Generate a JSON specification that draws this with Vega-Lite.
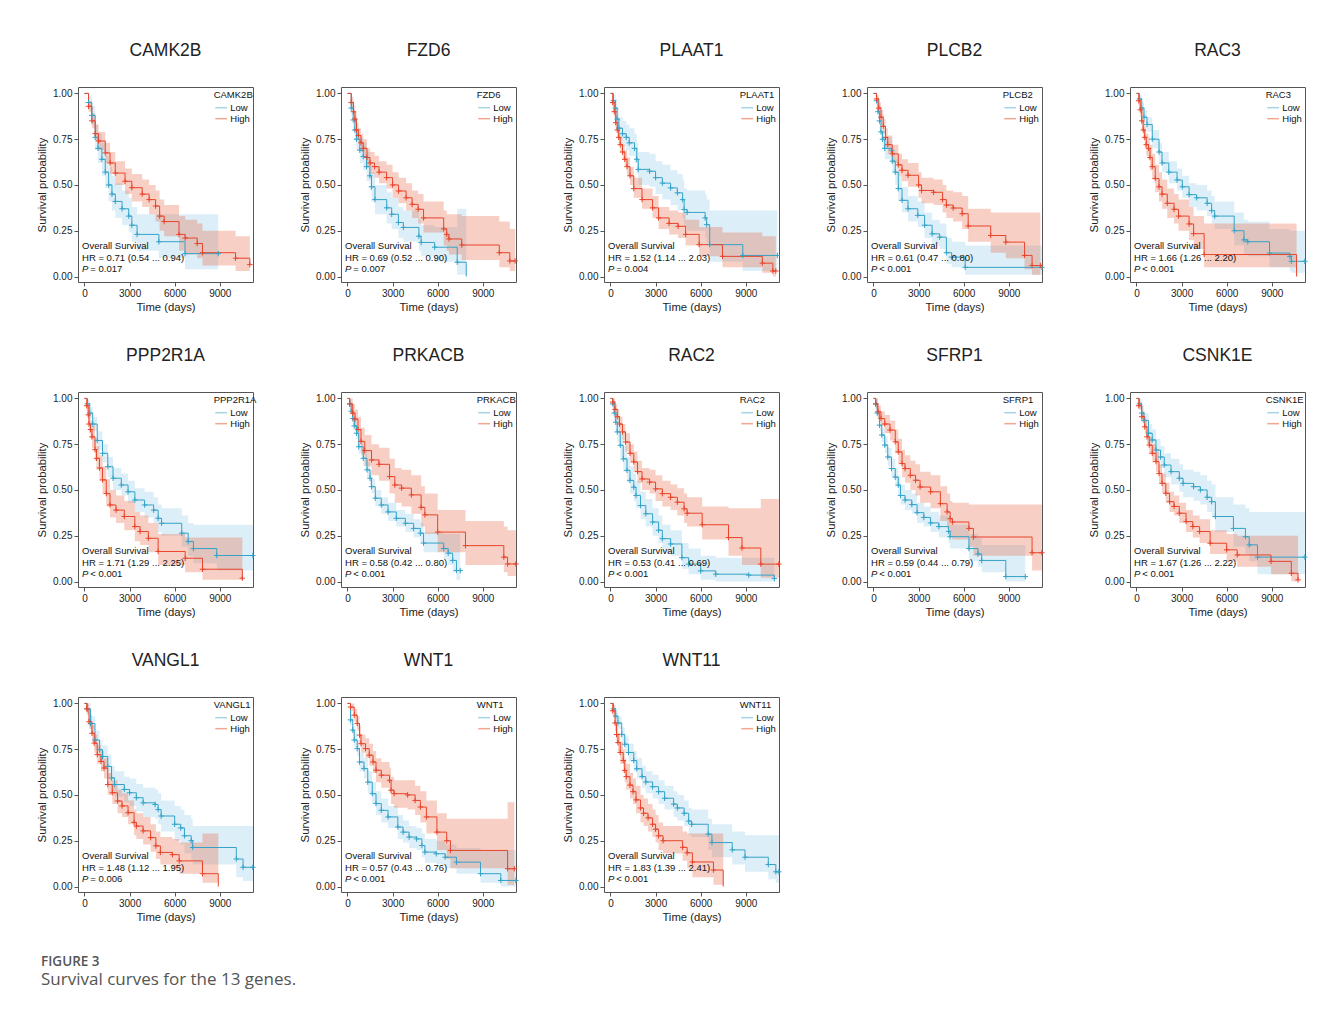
{
"$schema": "https://vega.github.io/schema/vega-lite/v6.json",
"background": "white",
"padding": {"left": 36, "top": 41, "right": 5, "bottom": 5},
"data": {"values": [
{"g":"CAMK2B","k":"A","hr":"HR = 0.71 (0.54 ... 0.94)","p":"= 0.017"},
{"g":"FZD6","k":"A","hr":"HR = 0.69 (0.52 ... 0.90)","p":"= 0.007"},
{"g":"PLAAT1","k":"A","hr":"HR = 1.52 (1.14 ... 2.03)","p":"= 0.004"},
{"g":"PLCB2","k":"A","hr":"HR = 0.61 (0.47 ... 0.80)","p":"< 0.001"},
{"g":"RAC3","k":"A","hr":"HR = 1.66 (1.26 ... 2.20)","p":"< 0.001"},
{"g":"PPP2R1A","k":"A","hr":"HR = 1.71 (1.29 ... 2.25)","p":"< 0.001"},
{"g":"PRKACB","k":"A","hr":"HR = 0.58 (0.42 ... 0.80)","p":"< 0.001"},
{"g":"RAC2","k":"A","hr":"HR = 0.53 (0.41 ... 0.69)","p":"< 0.001"},
{"g":"SFRP1","k":"A","hr":"HR = 0.59 (0.44 ... 0.79)","p":"< 0.001"},
{"g":"CSNK1E","k":"A","hr":"HR = 1.67 (1.26 ... 2.22)","p":"< 0.001"},
{"g":"VANGL1","k":"A","hr":"HR = 1.48 (1.12 ... 1.95)","p":"= 0.006"},
{"g":"WNT1","k":"A","hr":"HR = 0.57 (0.43 ... 0.76)","p":"< 0.001"},
{"g":"WNT11","k":"A","hr":"HR = 1.83 (1.39 ... 2.41)","p":"< 0.001"},

{"g":"CAMK2B","k":"L","t":0,"s":1,"lo":1,"hi":1},
{"g":"CAMK2B","k":"L","t":270,"s":0.95,"lo":0.91,"hi":0.99},
{"g":"CAMK2B","k":"L","t":490,"s":0.88,"lo":0.83,"hi":0.93},
{"g":"CAMK2B","k":"L","t":714,"s":0.76,"lo":0.69,"hi":0.83},
{"g":"CAMK2B","k":"L","t":900,"s":0.70,"lo":0.62,"hi":0.78},
{"g":"CAMK2B","k":"L","t":1160,"s":0.64,"lo":0.55,"hi":0.73},
{"g":"CAMK2B","k":"L","t":1383,"s":0.57,"lo":0.48,"hi":0.66},
{"g":"CAMK2B","k":"L","t":1606,"s":0.50,"lo":0.41,"hi":0.60},
{"g":"CAMK2B","k":"L","t":1829,"s":0.45,"lo":0.36,"hi":0.55},
{"g":"CAMK2B","k":"L","t":2052,"s":0.41,"lo":0.32,"hi":0.51},
{"g":"CAMK2B","k":"L","t":2500,"s":0.37,"lo":0.28,"hi":0.47},
{"g":"CAMK2B","k":"L","t":2944,"s":0.33,"lo":0.24,"hi":0.43},
{"g":"CAMK2B","k":"L","t":3150,"s":0.28,"lo":0.19,"hi":0.38},
{"g":"CAMK2B","k":"L","t":3500,"s":0.23,"lo":0.14,"hi":0.34},
{"g":"CAMK2B","k":"L","t":4950,"s":0.19,"lo":0.10,"hi":0.34},
{"g":"CAMK2B","k":"L","t":6690,"s":0.125,"lo":0.04,"hi":0.34},
{"g":"CAMK2B","k":"L","t":8900,"s":0.125,"lo":0.04,"hi":0.34},
{"g":"CAMK2B","k":"H","t":0,"s":1,"lo":1,"hi":1},
{"g":"CAMK2B","k":"H","t":270,"s":0.93,"lo":0.90,"hi":0.96},
{"g":"CAMK2B","k":"H","t":490,"s":0.85,"lo":0.81,"hi":0.89},
{"g":"CAMK2B","k":"H","t":714,"s":0.78,"lo":0.74,"hi":0.83},
{"g":"CAMK2B","k":"H","t":937,"s":0.74,"lo":0.69,"hi":0.79},
{"g":"CAMK2B","k":"H","t":1383,"s":0.675,"lo":0.62,"hi":0.73},
{"g":"CAMK2B","k":"H","t":1700,"s":0.62,"lo":0.56,"hi":0.68},
{"g":"CAMK2B","k":"H","t":2050,"s":0.565,"lo":0.50,"hi":0.63},
{"g":"CAMK2B","k":"H","t":2700,"s":0.52,"lo":0.45,"hi":0.59},
{"g":"CAMK2B","k":"H","t":3150,"s":0.485,"lo":0.41,"hi":0.56},
{"g":"CAMK2B","k":"H","t":3840,"s":0.45,"lo":0.38,"hi":0.53},
{"g":"CAMK2B","k":"H","t":4300,"s":0.42,"lo":0.34,"hi":0.50},
{"g":"CAMK2B","k":"H","t":4730,"s":0.385,"lo":0.30,"hi":0.47},
{"g":"CAMK2B","k":"H","t":5000,"s":0.33,"lo":0.25,"hi":0.42},
{"g":"CAMK2B","k":"H","t":5300,"s":0.30,"lo":0.22,"hi":0.39},
{"g":"CAMK2B","k":"H","t":6290,"s":0.23,"lo":0.14,"hi":0.33},
{"g":"CAMK2B","k":"H","t":6700,"s":0.21,"lo":0.12,"hi":0.31},
{"g":"CAMK2B","k":"H","t":7500,"s":0.18,"lo":0.10,"hi":0.29},
{"g":"CAMK2B","k":"H","t":7850,"s":0.13,"lo":0.06,"hi":0.25},
{"g":"CAMK2B","k":"H","t":10050,"s":0.10,"lo":0.03,"hi":0.22},
{"g":"CAMK2B","k":"H","t":11000,"s":0.065,"lo":0.02,"hi":0.20},

{"g":"FZD6","k":"L","t":0,"s":1,"lo":1,"hi":1},
{"g":"FZD6","k":"L","t":250,"s":0.92,"lo":0.88,"hi":0.96},
{"g":"FZD6","k":"L","t":380,"s":0.855,"lo":0.80,"hi":0.91},
{"g":"FZD6","k":"L","t":490,"s":0.80,"lo":0.74,"hi":0.86},
{"g":"FZD6","k":"L","t":600,"s":0.75,"lo":0.69,"hi":0.81},
{"g":"FZD6","k":"L","t":820,"s":0.69,"lo":0.62,"hi":0.76},
{"g":"FZD6","k":"L","t":1050,"s":0.655,"lo":0.58,"hi":0.73},
{"g":"FZD6","k":"L","t":1270,"s":0.60,"lo":0.52,"hi":0.68},
{"g":"FZD6","k":"L","t":1490,"s":0.55,"lo":0.47,"hi":0.63},
{"g":"FZD6","k":"L","t":1600,"s":0.49,"lo":0.41,"hi":0.57},
{"g":"FZD6","k":"L","t":1830,"s":0.42,"lo":0.34,"hi":0.50},
{"g":"FZD6","k":"L","t":2610,"s":0.375,"lo":0.29,"hi":0.46},
{"g":"FZD6","k":"L","t":2940,"s":0.34,"lo":0.26,"hi":0.43},
{"g":"FZD6","k":"L","t":3390,"s":0.295,"lo":0.21,"hi":0.38},
{"g":"FZD6","k":"L","t":3720,"s":0.268,"lo":0.19,"hi":0.36},
{"g":"FZD6","k":"L","t":4750,"s":0.22,"lo":0.14,"hi":0.31},
{"g":"FZD6","k":"L","t":4900,"s":0.186,"lo":0.11,"hi":0.28},
{"g":"FZD6","k":"L","t":5800,"s":0.16,"lo":0.08,"hi":0.27},
{"g":"FZD6","k":"L","t":7300,"s":0.078,"lo":0.01,"hi":0.37},
{"g":"FZD6","k":"L","t":7900,"s":0,"lo":0.01,"hi":0.37},
{"g":"FZD6","k":"H","t":0,"s":1,"lo":1,"hi":1},
{"g":"FZD6","k":"H","t":250,"s":0.95,"lo":0.92,"hi":0.98},
{"g":"FZD6","k":"H","t":400,"s":0.90,"lo":0.87,"hi":0.93},
{"g":"FZD6","k":"H","t":500,"s":0.86,"lo":0.82,"hi":0.90},
{"g":"FZD6","k":"H","t":600,"s":0.80,"lo":0.76,"hi":0.84},
{"g":"FZD6","k":"H","t":720,"s":0.77,"lo":0.73,"hi":0.81},
{"g":"FZD6","k":"H","t":900,"s":0.73,"lo":0.68,"hi":0.78},
{"g":"FZD6","k":"H","t":1050,"s":0.70,"lo":0.65,"hi":0.75},
{"g":"FZD6","k":"H","t":1300,"s":0.65,"lo":0.60,"hi":0.70},
{"g":"FZD6","k":"H","t":1500,"s":0.62,"lo":0.56,"hi":0.68},
{"g":"FZD6","k":"H","t":1800,"s":0.60,"lo":0.54,"hi":0.66},
{"g":"FZD6","k":"H","t":2100,"s":0.57,"lo":0.51,"hi":0.63},
{"g":"FZD6","k":"H","t":2600,"s":0.54,"lo":0.48,"hi":0.61},
{"g":"FZD6","k":"H","t":3000,"s":0.50,"lo":0.43,"hi":0.57},
{"g":"FZD6","k":"H","t":3400,"s":0.467,"lo":0.40,"hi":0.54},
{"g":"FZD6","k":"H","t":3900,"s":0.43,"lo":0.36,"hi":0.51},
{"g":"FZD6","k":"H","t":4300,"s":0.394,"lo":0.32,"hi":0.47},
{"g":"FZD6","k":"H","t":4700,"s":0.367,"lo":0.29,"hi":0.45},
{"g":"FZD6","k":"H","t":5060,"s":0.32,"lo":0.24,"hi":0.41},
{"g":"FZD6","k":"H","t":6400,"s":0.26,"lo":0.17,"hi":0.36},
{"g":"FZD6","k":"H","t":6600,"s":0.23,"lo":0.14,"hi":0.34},
{"g":"FZD6","k":"H","t":6750,"s":0.205,"lo":0.12,"hi":0.34},
{"g":"FZD6","k":"H","t":7600,"s":0.172,"lo":0.09,"hi":0.33},
{"g":"FZD6","k":"H","t":10100,"s":0.13,"lo":0.05,"hi":0.30},
{"g":"FZD6","k":"H","t":10800,"s":0.085,"lo":0.03,"hi":0.26},
{"g":"FZD6","k":"H","t":11150,"s":0.085,"lo":0.03,"hi":0.26},

{"g":"PLAAT1","k":"L","t":0,"s":1,"lo":1,"hi":1},
{"g":"PLAAT1","k":"L","t":200,"s":0.96,"lo":0.92,"hi":0.99},
{"g":"PLAAT1","k":"L","t":330,"s":0.92,"lo":0.87,"hi":0.97},
{"g":"PLAAT1","k":"L","t":440,"s":0.86,"lo":0.80,"hi":0.92},
{"g":"PLAAT1","k":"L","t":560,"s":0.81,"lo":0.75,"hi":0.87},
{"g":"PLAAT1","k":"L","t":800,"s":0.78,"lo":0.71,"hi":0.85},
{"g":"PLAAT1","k":"L","t":1050,"s":0.76,"lo":0.69,"hi":0.83},
{"g":"PLAAT1","k":"L","t":1250,"s":0.73,"lo":0.66,"hi":0.81},
{"g":"PLAAT1","k":"L","t":1600,"s":0.70,"lo":0.62,"hi":0.78},
{"g":"PLAAT1","k":"L","t":1750,"s":0.64,"lo":0.56,"hi":0.73},
{"g":"PLAAT1","k":"L","t":1850,"s":0.585,"lo":0.50,"hi":0.68},
{"g":"PLAAT1","k":"L","t":2600,"s":0.575,"lo":0.49,"hi":0.67},
{"g":"PLAAT1","k":"L","t":3000,"s":0.54,"lo":0.45,"hi":0.63},
{"g":"PLAAT1","k":"L","t":3450,"s":0.51,"lo":0.42,"hi":0.61},
{"g":"PLAAT1","k":"L","t":4000,"s":0.484,"lo":0.39,"hi":0.58},
{"g":"PLAAT1","k":"L","t":4450,"s":0.457,"lo":0.36,"hi":0.56},
{"g":"PLAAT1","k":"L","t":4800,"s":0.42,"lo":0.32,"hi":0.53},
{"g":"PLAAT1","k":"L","t":4900,"s":0.366,"lo":0.27,"hi":0.48},
{"g":"PLAAT1","k":"L","t":5100,"s":0.35,"lo":0.25,"hi":0.47},
{"g":"PLAAT1","k":"L","t":6300,"s":0.32,"lo":0.21,"hi":0.45},
{"g":"PLAAT1","k":"L","t":6400,"s":0.283,"lo":0.18,"hi":0.42},
{"g":"PLAAT1","k":"L","t":6600,"s":0.174,"lo":0.08,"hi":0.36},
{"g":"PLAAT1","k":"L","t":8800,"s":0.115,"lo":0.03,"hi":0.36},
{"g":"PLAAT1","k":"L","t":11100,"s":0.115,"lo":0.03,"hi":0.36},
{"g":"PLAAT1","k":"H","t":0,"s":1,"lo":1,"hi":1},
{"g":"PLAAT1","k":"H","t":150,"s":0.95,"lo":0.93,"hi":0.97},
{"g":"PLAAT1","k":"H","t":250,"s":0.90,"lo":0.87,"hi":0.93},
{"g":"PLAAT1","k":"H","t":350,"s":0.84,"lo":0.81,"hi":0.88},
{"g":"PLAAT1","k":"H","t":450,"s":0.80,"lo":0.76,"hi":0.84},
{"g":"PLAAT1","k":"H","t":550,"s":0.76,"lo":0.72,"hi":0.80},
{"g":"PLAAT1","k":"H","t":650,"s":0.72,"lo":0.68,"hi":0.76},
{"g":"PLAAT1","k":"H","t":800,"s":0.68,"lo":0.64,"hi":0.72},
{"g":"PLAAT1","k":"H","t":950,"s":0.64,"lo":0.60,"hi":0.69},
{"g":"PLAAT1","k":"H","t":1100,"s":0.60,"lo":0.55,"hi":0.65},
{"g":"PLAAT1","k":"H","t":1300,"s":0.55,"lo":0.50,"hi":0.60},
{"g":"PLAAT1","k":"H","t":1550,"s":0.48,"lo":0.43,"hi":0.54},
{"g":"PLAAT1","k":"H","t":2100,"s":0.42,"lo":0.37,"hi":0.48},
{"g":"PLAAT1","k":"H","t":2800,"s":0.375,"lo":0.32,"hi":0.44},
{"g":"PLAAT1","k":"H","t":3200,"s":0.32,"lo":0.26,"hi":0.38},
{"g":"PLAAT1","k":"H","t":3900,"s":0.29,"lo":0.23,"hi":0.36},
{"g":"PLAAT1","k":"H","t":4500,"s":0.274,"lo":0.21,"hi":0.35},
{"g":"PLAAT1","k":"H","t":5000,"s":0.23,"lo":0.17,"hi":0.31},
{"g":"PLAAT1","k":"H","t":5900,"s":0.174,"lo":0.11,"hi":0.27},
{"g":"PLAAT1","k":"H","t":7450,"s":0.11,"lo":0.05,"hi":0.24},
{"g":"PLAAT1","k":"H","t":10100,"s":0.073,"lo":0.02,"hi":0.22},
{"g":"PLAAT1","k":"H","t":10800,"s":0.03,"lo":0.0,"hi":0.22},
{"g":"PLAAT1","k":"H","t":11000,"s":0.03,"lo":0.0,"hi":0.22},

{"g":"PLCB2","k":"L","t":0,"s":1,"lo":1,"hi":1},
{"g":"PLCB2","k":"L","t":200,"s":0.96,"lo":0.93,"hi":0.99},
{"g":"PLCB2","k":"L","t":300,"s":0.90,"lo":0.86,"hi":0.94},
{"g":"PLCB2","k":"L","t":400,"s":0.85,"lo":0.80,"hi":0.90},
{"g":"PLCB2","k":"L","t":500,"s":0.79,"lo":0.74,"hi":0.84},
{"g":"PLCB2","k":"L","t":600,"s":0.75,"lo":0.70,"hi":0.80},
{"g":"PLCB2","k":"L","t":750,"s":0.70,"lo":0.64,"hi":0.76},
{"g":"PLCB2","k":"L","t":1200,"s":0.69,"lo":0.63,"hi":0.75},
{"g":"PLCB2","k":"L","t":1250,"s":0.63,"lo":0.57,"hi":0.69},
{"g":"PLCB2","k":"L","t":1450,"s":0.57,"lo":0.50,"hi":0.64},
{"g":"PLCB2","k":"L","t":1650,"s":0.48,"lo":0.41,"hi":0.55},
{"g":"PLCB2","k":"L","t":1900,"s":0.416,"lo":0.35,"hi":0.49},
{"g":"PLCB2","k":"L","t":2300,"s":0.37,"lo":0.30,"hi":0.44},
{"g":"PLCB2","k":"L","t":2950,"s":0.334,"lo":0.27,"hi":0.41},
{"g":"PLCB2","k":"L","t":3400,"s":0.28,"lo":0.21,"hi":0.35},
{"g":"PLCB2","k":"L","t":3900,"s":0.233,"lo":0.17,"hi":0.31},
{"g":"PLCB2","k":"L","t":4400,"s":0.215,"lo":0.15,"hi":0.29},
{"g":"PLCB2","k":"L","t":4850,"s":0.13,"lo":0.07,"hi":0.21},
{"g":"PLCB2","k":"L","t":5200,"s":0.106,"lo":0.05,"hi":0.19},
{"g":"PLCB2","k":"L","t":6100,"s":0.05,"lo":0.01,"hi":0.17},
{"g":"PLCB2","k":"L","t":11200,"s":0.05,"lo":0.01,"hi":0.17},
{"g":"PLCB2","k":"H","t":0,"s":1,"lo":1,"hi":1},
{"g":"PLCB2","k":"H","t":200,"s":0.97,"lo":0.95,"hi":0.99},
{"g":"PLCB2","k":"H","t":350,"s":0.92,"lo":0.89,"hi":0.95},
{"g":"PLCB2","k":"H","t":500,"s":0.87,"lo":0.83,"hi":0.91},
{"g":"PLCB2","k":"H","t":650,"s":0.82,"lo":0.78,"hi":0.86},
{"g":"PLCB2","k":"H","t":800,"s":0.76,"lo":0.71,"hi":0.81},
{"g":"PLCB2","k":"H","t":950,"s":0.72,"lo":0.67,"hi":0.77},
{"g":"PLCB2","k":"H","t":1250,"s":0.67,"lo":0.62,"hi":0.72},
{"g":"PLCB2","k":"H","t":1650,"s":0.61,"lo":0.55,"hi":0.67},
{"g":"PLCB2","k":"H","t":1900,"s":0.58,"lo":0.52,"hi":0.64},
{"g":"PLCB2","k":"H","t":2300,"s":0.553,"lo":0.49,"hi":0.62},
{"g":"PLCB2","k":"H","t":3000,"s":0.50,"lo":0.43,"hi":0.57},
{"g":"PLCB2","k":"H","t":3200,"s":0.47,"lo":0.40,"hi":0.54},
{"g":"PLCB2","k":"H","t":4000,"s":0.46,"lo":0.39,"hi":0.53},
{"g":"PLCB2","k":"H","t":4600,"s":0.42,"lo":0.35,"hi":0.50},
{"g":"PLCB2","k":"H","t":4850,"s":0.39,"lo":0.32,"hi":0.47},
{"g":"PLCB2","k":"H","t":5300,"s":0.374,"lo":0.30,"hi":0.46},
{"g":"PLCB2","k":"H","t":5900,"s":0.343,"lo":0.26,"hi":0.44},
{"g":"PLCB2","k":"H","t":6300,"s":0.276,"lo":0.19,"hi":0.37},
{"g":"PLCB2","k":"H","t":7800,"s":0.224,"lo":0.13,"hi":0.35},
{"g":"PLCB2","k":"H","t":8800,"s":0.188,"lo":0.10,"hi":0.35},
{"g":"PLCB2","k":"H","t":10050,"s":0.115,"lo":0.04,"hi":0.35},
{"g":"PLCB2","k":"H","t":10550,"s":0.06,"lo":0.01,"hi":0.35},
{"g":"PLCB2","k":"H","t":11100,"s":0.06,"lo":0.01,"hi":0.35},

{"g":"RAC3","k":"L","t":0,"s":1,"lo":1,"hi":1},
{"g":"RAC3","k":"L","t":200,"s":0.97,"lo":0.95,"hi":0.99},
{"g":"RAC3","k":"L","t":350,"s":0.92,"lo":0.89,"hi":0.95},
{"g":"RAC3","k":"L","t":500,"s":0.87,"lo":0.84,"hi":0.91},
{"g":"RAC3","k":"L","t":700,"s":0.83,"lo":0.79,"hi":0.87},
{"g":"RAC3","k":"L","t":1050,"s":0.75,"lo":0.70,"hi":0.80},
{"g":"RAC3","k":"L","t":1500,"s":0.68,"lo":0.63,"hi":0.73},
{"g":"RAC3","k":"L","t":1700,"s":0.62,"lo":0.57,"hi":0.68},
{"g":"RAC3","k":"L","t":2150,"s":0.57,"lo":0.51,"hi":0.63},
{"g":"RAC3","k":"L","t":2700,"s":0.527,"lo":0.47,"hi":0.59},
{"g":"RAC3","k":"L","t":3050,"s":0.49,"lo":0.43,"hi":0.55},
{"g":"RAC3","k":"L","t":3500,"s":0.447,"lo":0.38,"hi":0.51},
{"g":"RAC3","k":"L","t":4000,"s":0.43,"lo":0.36,"hi":0.50},
{"g":"RAC3","k":"L","t":4700,"s":0.40,"lo":0.33,"hi":0.47},
{"g":"RAC3","k":"L","t":5000,"s":0.36,"lo":0.29,"hi":0.44},
{"g":"RAC3","k":"L","t":5200,"s":0.33,"lo":0.26,"hi":0.41},
{"g":"RAC3","k":"L","t":6500,"s":0.25,"lo":0.17,"hi":0.35},
{"g":"RAC3","k":"L","t":7150,"s":0.20,"lo":0.12,"hi":0.31},
{"g":"RAC3","k":"L","t":7400,"s":0.19,"lo":0.11,"hi":0.30},
{"g":"RAC3","k":"L","t":8850,"s":0.128,"lo":0.05,"hi":0.26},
{"g":"RAC3","k":"L","t":10200,"s":0.11,"lo":0.03,"hi":0.25},
{"g":"RAC3","k":"L","t":10300,"s":0.083,"lo":0.02,"hi":0.25},
{"g":"RAC3","k":"L","t":11200,"s":0.083,"lo":0.02,"hi":0.25},
{"g":"RAC3","k":"H","t":0,"s":1,"lo":1,"hi":1},
{"g":"RAC3","k":"H","t":150,"s":0.96,"lo":0.93,"hi":0.99},
{"g":"RAC3","k":"H","t":250,"s":0.91,"lo":0.87,"hi":0.95},
{"g":"RAC3","k":"H","t":350,"s":0.85,"lo":0.80,"hi":0.90},
{"g":"RAC3","k":"H","t":450,"s":0.80,"lo":0.75,"hi":0.85},
{"g":"RAC3","k":"H","t":550,"s":0.76,"lo":0.70,"hi":0.82},
{"g":"RAC3","k":"H","t":650,"s":0.72,"lo":0.66,"hi":0.78},
{"g":"RAC3","k":"H","t":800,"s":0.70,"lo":0.64,"hi":0.76},
{"g":"RAC3","k":"H","t":900,"s":0.65,"lo":0.58,"hi":0.72},
{"g":"RAC3","k":"H","t":1050,"s":0.60,"lo":0.53,"hi":0.67},
{"g":"RAC3","k":"H","t":1250,"s":0.535,"lo":0.46,"hi":0.61},
{"g":"RAC3","k":"H","t":1500,"s":0.49,"lo":0.41,"hi":0.57},
{"g":"RAC3","k":"H","t":1700,"s":0.45,"lo":0.37,"hi":0.53},
{"g":"RAC3","k":"H","t":2050,"s":0.40,"lo":0.32,"hi":0.48},
{"g":"RAC3","k":"H","t":2500,"s":0.367,"lo":0.29,"hi":0.45},
{"g":"RAC3","k":"H","t":2800,"s":0.33,"lo":0.25,"hi":0.42},
{"g":"RAC3","k":"H","t":3500,"s":0.287,"lo":0.20,"hi":0.38},
{"g":"RAC3","k":"H","t":3800,"s":0.234,"lo":0.15,"hi":0.33},
{"g":"RAC3","k":"H","t":4500,"s":0.12,"lo":0.05,"hi":0.29},
{"g":"RAC3","k":"H","t":10650,"s":0,"lo":0.05,"hi":0.29},

{"g":"PPP2R1A","k":"L","t":0,"s":1,"lo":1,"hi":1},
{"g":"PPP2R1A","k":"L","t":200,"s":0.97,"lo":0.95,"hi":0.99},
{"g":"PPP2R1A","k":"L","t":350,"s":0.92,"lo":0.89,"hi":0.95},
{"g":"PPP2R1A","k":"L","t":550,"s":0.86,"lo":0.82,"hi":0.90},
{"g":"PPP2R1A","k":"L","t":850,"s":0.77,"lo":0.72,"hi":0.82},
{"g":"PPP2R1A","k":"L","t":1200,"s":0.70,"lo":0.65,"hi":0.75},
{"g":"PPP2R1A","k":"L","t":1550,"s":0.627,"lo":0.57,"hi":0.68},
{"g":"PPP2R1A","k":"L","t":1900,"s":0.564,"lo":0.50,"hi":0.62},
{"g":"PPP2R1A","k":"L","t":2450,"s":0.527,"lo":0.47,"hi":0.59},
{"g":"PPP2R1A","k":"L","t":2900,"s":0.49,"lo":0.43,"hi":0.55},
{"g":"PPP2R1A","k":"L","t":3350,"s":0.445,"lo":0.38,"hi":0.51},
{"g":"PPP2R1A","k":"L","t":4000,"s":0.418,"lo":0.35,"hi":0.49},
{"g":"PPP2R1A","k":"L","t":4600,"s":0.39,"lo":0.32,"hi":0.46},
{"g":"PPP2R1A","k":"L","t":4900,"s":0.345,"lo":0.27,"hi":0.42},
{"g":"PPP2R1A","k":"L","t":5130,"s":0.318,"lo":0.25,"hi":0.40},
{"g":"PPP2R1A","k":"L","t":6470,"s":0.264,"lo":0.19,"hi":0.36},
{"g":"PPP2R1A","k":"L","t":6900,"s":0.218,"lo":0.14,"hi":0.32},
{"g":"PPP2R1A","k":"L","t":7250,"s":0.18,"lo":0.10,"hi":0.31},
{"g":"PPP2R1A","k":"L","t":8800,"s":0.142,"lo":0.06,"hi":0.31},
{"g":"PPP2R1A","k":"L","t":11200,"s":0.142,"lo":0.06,"hi":0.31},
{"g":"PPP2R1A","k":"H","t":0,"s":1,"lo":1,"hi":1},
{"g":"PPP2R1A","k":"H","t":150,"s":0.96,"lo":0.93,"hi":0.99},
{"g":"PPP2R1A","k":"H","t":250,"s":0.91,"lo":0.87,"hi":0.95},
{"g":"PPP2R1A","k":"H","t":300,"s":0.86,"lo":0.81,"hi":0.91},
{"g":"PPP2R1A","k":"H","t":400,"s":0.83,"lo":0.78,"hi":0.88},
{"g":"PPP2R1A","k":"H","t":500,"s":0.79,"lo":0.73,"hi":0.85},
{"g":"PPP2R1A","k":"H","t":700,"s":0.72,"lo":0.66,"hi":0.78},
{"g":"PPP2R1A","k":"H","t":800,"s":0.673,"lo":0.61,"hi":0.74},
{"g":"PPP2R1A","k":"H","t":1000,"s":0.62,"lo":0.55,"hi":0.69},
{"g":"PPP2R1A","k":"H","t":1200,"s":0.555,"lo":0.48,"hi":0.63},
{"g":"PPP2R1A","k":"H","t":1450,"s":0.48,"lo":0.41,"hi":0.56},
{"g":"PPP2R1A","k":"H","t":1700,"s":0.418,"lo":0.35,"hi":0.50},
{"g":"PPP2R1A","k":"H","t":2100,"s":0.39,"lo":0.32,"hi":0.47},
{"g":"PPP2R1A","k":"H","t":2650,"s":0.355,"lo":0.28,"hi":0.44},
{"g":"PPP2R1A","k":"H","t":3350,"s":0.30,"lo":0.22,"hi":0.38},
{"g":"PPP2R1A","k":"H","t":3700,"s":0.273,"lo":0.20,"hi":0.36},
{"g":"PPP2R1A","k":"H","t":4250,"s":0.236,"lo":0.16,"hi":0.32},
{"g":"PPP2R1A","k":"H","t":4900,"s":0.164,"lo":0.09,"hi":0.26},
{"g":"PPP2R1A","k":"H","t":6700,"s":0.127,"lo":0.05,"hi":0.24},
{"g":"PPP2R1A","k":"H","t":7850,"s":0.067,"lo":0.01,"hi":0.24},
{"g":"PPP2R1A","k":"H","t":10500,"s":0.018,"lo":0.0,"hi":0.24},

{"g":"PRKACB","k":"L","t":0,"s":1,"lo":1,"hi":1},
{"g":"PRKACB","k":"L","t":150,"s":0.97,"lo":0.95,"hi":0.99},
{"g":"PRKACB","k":"L","t":250,"s":0.93,"lo":0.91,"hi":0.95},
{"g":"PRKACB","k":"L","t":350,"s":0.89,"lo":0.86,"hi":0.92},
{"g":"PRKACB","k":"L","t":450,"s":0.85,"lo":0.82,"hi":0.88},
{"g":"PRKACB","k":"L","t":600,"s":0.81,"lo":0.78,"hi":0.84},
{"g":"PRKACB","k":"L","t":750,"s":0.736,"lo":0.70,"hi":0.77},
{"g":"PRKACB","k":"L","t":1050,"s":0.673,"lo":0.63,"hi":0.71},
{"g":"PRKACB","k":"L","t":1300,"s":0.61,"lo":0.57,"hi":0.65},
{"g":"PRKACB","k":"L","t":1500,"s":0.564,"lo":0.52,"hi":0.61},
{"g":"PRKACB","k":"L","t":1600,"s":0.518,"lo":0.48,"hi":0.56},
{"g":"PRKACB","k":"L","t":1850,"s":0.455,"lo":0.41,"hi":0.50},
{"g":"PRKACB","k":"L","t":2250,"s":0.418,"lo":0.37,"hi":0.46},
{"g":"PRKACB","k":"L","t":2700,"s":0.38,"lo":0.33,"hi":0.43},
{"g":"PRKACB","k":"L","t":3250,"s":0.345,"lo":0.30,"hi":0.39},
{"g":"PRKACB","k":"L","t":3850,"s":0.318,"lo":0.27,"hi":0.37},
{"g":"PRKACB","k":"L","t":4400,"s":0.29,"lo":0.24,"hi":0.34},
{"g":"PRKACB","k":"L","t":4850,"s":0.264,"lo":0.21,"hi":0.32},
{"g":"PRKACB","k":"L","t":5060,"s":0.21,"lo":0.16,"hi":0.27},
{"g":"PRKACB","k":"L","t":6400,"s":0.18,"lo":0.12,"hi":0.26},
{"g":"PRKACB","k":"L","t":6700,"s":0.155,"lo":0.09,"hi":0.26},
{"g":"PRKACB","k":"L","t":7000,"s":0.115,"lo":0.05,"hi":0.26},
{"g":"PRKACB","k":"L","t":7250,"s":0.06,"lo":0.01,"hi":0.26},
{"g":"PRKACB","k":"L","t":7500,"s":0.06,"lo":0.01,"hi":0.26},
{"g":"PRKACB","k":"H","t":0,"s":1,"lo":1,"hi":1},
{"g":"PRKACB","k":"H","t":150,"s":0.97,"lo":0.94,"hi":1.0},
{"g":"PRKACB","k":"H","t":350,"s":0.92,"lo":0.87,"hi":0.97},
{"g":"PRKACB","k":"H","t":500,"s":0.887,"lo":0.83,"hi":0.94},
{"g":"PRKACB","k":"H","t":700,"s":0.83,"lo":0.76,"hi":0.90},
{"g":"PRKACB","k":"H","t":900,"s":0.765,"lo":0.69,"hi":0.84},
{"g":"PRKACB","k":"H","t":1150,"s":0.715,"lo":0.63,"hi":0.80},
{"g":"PRKACB","k":"H","t":1600,"s":0.664,"lo":0.58,"hi":0.75},
{"g":"PRKACB","k":"H","t":2100,"s":0.64,"lo":0.55,"hi":0.73},
{"g":"PRKACB","k":"H","t":2800,"s":0.573,"lo":0.48,"hi":0.67},
{"g":"PRKACB","k":"H","t":3150,"s":0.527,"lo":0.43,"hi":0.62},
{"g":"PRKACB","k":"H","t":3600,"s":0.51,"lo":0.41,"hi":0.61},
{"g":"PRKACB","k":"H","t":4250,"s":0.473,"lo":0.37,"hi":0.58},
{"g":"PRKACB","k":"H","t":4900,"s":0.405,"lo":0.30,"hi":0.52},
{"g":"PRKACB","k":"H","t":5150,"s":0.364,"lo":0.26,"hi":0.48},
{"g":"PRKACB","k":"H","t":6000,"s":0.27,"lo":0.16,"hi":0.39},
{"g":"PRKACB","k":"H","t":7850,"s":0.196,"lo":0.09,"hi":0.33},
{"g":"PRKACB","k":"H","t":10400,"s":0.133,"lo":0.05,"hi":0.30},
{"g":"PRKACB","k":"H","t":10650,"s":0.096,"lo":0.03,"hi":0.28},
{"g":"PRKACB","k":"H","t":11200,"s":0.096,"lo":0.03,"hi":0.28},

{"g":"RAC2","k":"L","t":0,"s":1,"lo":1,"hi":1},
{"g":"RAC2","k":"L","t":150,"s":0.97,"lo":0.94,"hi":1.0},
{"g":"RAC2","k":"L","t":250,"s":0.92,"lo":0.88,"hi":0.96},
{"g":"RAC2","k":"L","t":350,"s":0.87,"lo":0.82,"hi":0.92},
{"g":"RAC2","k":"L","t":450,"s":0.817,"lo":0.76,"hi":0.87},
{"g":"RAC2","k":"L","t":650,"s":0.744,"lo":0.68,"hi":0.81},
{"g":"RAC2","k":"L","t":850,"s":0.67,"lo":0.60,"hi":0.74},
{"g":"RAC2","k":"L","t":1100,"s":0.607,"lo":0.54,"hi":0.68},
{"g":"RAC2","k":"L","t":1300,"s":0.552,"lo":0.48,"hi":0.63},
{"g":"RAC2","k":"L","t":1550,"s":0.515,"lo":0.44,"hi":0.59},
{"g":"RAC2","k":"L","t":1700,"s":0.47,"lo":0.40,"hi":0.55},
{"g":"RAC2","k":"L","t":2000,"s":0.415,"lo":0.34,"hi":0.49},
{"g":"RAC2","k":"L","t":2350,"s":0.37,"lo":0.30,"hi":0.45},
{"g":"RAC2","k":"L","t":2800,"s":0.325,"lo":0.25,"hi":0.40},
{"g":"RAC2","k":"L","t":3200,"s":0.28,"lo":0.21,"hi":0.36},
{"g":"RAC2","k":"L","t":3450,"s":0.234,"lo":0.16,"hi":0.31},
{"g":"RAC2","k":"L","t":4000,"s":0.205,"lo":0.14,"hi":0.28},
{"g":"RAC2","k":"L","t":4750,"s":0.13,"lo":0.07,"hi":0.21},
{"g":"RAC2","k":"L","t":5200,"s":0.095,"lo":0.04,"hi":0.18},
{"g":"RAC2","k":"L","t":6000,"s":0.058,"lo":0.01,"hi":0.14},
{"g":"RAC2","k":"L","t":7000,"s":0.04,"lo":0.0,"hi":0.13},
{"g":"RAC2","k":"L","t":9200,"s":0.035,"lo":0.0,"hi":0.13},
{"g":"RAC2","k":"L","t":10900,"s":0.016,"lo":0.0,"hi":0.13},
{"g":"RAC2","k":"H","t":0,"s":1,"lo":1,"hi":1},
{"g":"RAC2","k":"H","t":150,"s":0.98,"lo":0.96,"hi":1.0},
{"g":"RAC2","k":"H","t":300,"s":0.94,"lo":0.91,"hi":0.97},
{"g":"RAC2","k":"H","t":450,"s":0.90,"lo":0.86,"hi":0.94},
{"g":"RAC2","k":"H","t":600,"s":0.86,"lo":0.82,"hi":0.90},
{"g":"RAC2","k":"H","t":800,"s":0.817,"lo":0.77,"hi":0.86},
{"g":"RAC2","k":"H","t":1000,"s":0.762,"lo":0.71,"hi":0.81},
{"g":"RAC2","k":"H","t":1300,"s":0.70,"lo":0.65,"hi":0.75},
{"g":"RAC2","k":"H","t":1550,"s":0.653,"lo":0.60,"hi":0.71},
{"g":"RAC2","k":"H","t":1800,"s":0.60,"lo":0.54,"hi":0.66},
{"g":"RAC2","k":"H","t":2100,"s":0.56,"lo":0.50,"hi":0.62},
{"g":"RAC2","k":"H","t":2600,"s":0.543,"lo":0.48,"hi":0.61},
{"g":"RAC2","k":"H","t":3000,"s":0.506,"lo":0.44,"hi":0.58},
{"g":"RAC2","k":"H","t":3450,"s":0.48,"lo":0.41,"hi":0.55},
{"g":"RAC2","k":"H","t":4000,"s":0.46,"lo":0.39,"hi":0.53},
{"g":"RAC2","k":"H","t":4450,"s":0.433,"lo":0.36,"hi":0.51},
{"g":"RAC2","k":"H","t":4900,"s":0.397,"lo":0.32,"hi":0.48},
{"g":"RAC2","k":"H","t":5100,"s":0.373,"lo":0.30,"hi":0.46},
{"g":"RAC2","k":"H","t":6100,"s":0.31,"lo":0.23,"hi":0.41},
{"g":"RAC2","k":"H","t":7850,"s":0.24,"lo":0.14,"hi":0.40},
{"g":"RAC2","k":"H","t":8750,"s":0.183,"lo":0.09,"hi":0.40},
{"g":"RAC2","k":"H","t":10000,"s":0.095,"lo":0.02,"hi":0.45},
{"g":"RAC2","k":"H","t":11200,"s":0.095,"lo":0.02,"hi":0.45},

{"g":"SFRP1","k":"L","t":0,"s":1,"lo":1,"hi":1},
{"g":"SFRP1","k":"L","t":150,"s":0.97,"lo":0.95,"hi":0.99},
{"g":"SFRP1","k":"L","t":250,"s":0.92,"lo":0.89,"hi":0.95},
{"g":"SFRP1","k":"L","t":400,"s":0.854,"lo":0.82,"hi":0.89},
{"g":"SFRP1","k":"L","t":550,"s":0.80,"lo":0.76,"hi":0.84},
{"g":"SFRP1","k":"L","t":750,"s":0.745,"lo":0.70,"hi":0.79},
{"g":"SFRP1","k":"L","t":950,"s":0.68,"lo":0.63,"hi":0.73},
{"g":"SFRP1","k":"L","t":1200,"s":0.617,"lo":0.57,"hi":0.67},
{"g":"SFRP1","k":"L","t":1450,"s":0.57,"lo":0.52,"hi":0.62},
{"g":"SFRP1","k":"L","t":1650,"s":0.526,"lo":0.47,"hi":0.58},
{"g":"SFRP1","k":"L","t":1800,"s":0.47,"lo":0.42,"hi":0.53},
{"g":"SFRP1","k":"L","t":2100,"s":0.445,"lo":0.39,"hi":0.50},
{"g":"SFRP1","k":"L","t":2550,"s":0.42,"lo":0.37,"hi":0.48},
{"g":"SFRP1","k":"L","t":2900,"s":0.376,"lo":0.32,"hi":0.43},
{"g":"SFRP1","k":"L","t":3350,"s":0.35,"lo":0.30,"hi":0.41},
{"g":"SFRP1","k":"L","t":3800,"s":0.32,"lo":0.27,"hi":0.38},
{"g":"SFRP1","k":"L","t":4350,"s":0.30,"lo":0.24,"hi":0.36},
{"g":"SFRP1","k":"L","t":5000,"s":0.274,"lo":0.21,"hi":0.34},
{"g":"SFRP1","k":"L","t":5100,"s":0.245,"lo":0.18,"hi":0.31},
{"g":"SFRP1","k":"L","t":6350,"s":0.18,"lo":0.11,"hi":0.26},
{"g":"SFRP1","k":"L","t":6950,"s":0.15,"lo":0.08,"hi":0.24},
{"g":"SFRP1","k":"L","t":7200,"s":0.115,"lo":0.05,"hi":0.20},
{"g":"SFRP1","k":"L","t":8800,"s":0.027,"lo":0.0,"hi":0.20},
{"g":"SFRP1","k":"L","t":10100,"s":0.027,"lo":0.0,"hi":0.20},
{"g":"SFRP1","k":"H","t":0,"s":1,"lo":1,"hi":1},
{"g":"SFRP1","k":"H","t":150,"s":0.97,"lo":0.94,"hi":1.0},
{"g":"SFRP1","k":"H","t":300,"s":0.927,"lo":0.89,"hi":0.96},
{"g":"SFRP1","k":"H","t":500,"s":0.89,"lo":0.85,"hi":0.93},
{"g":"SFRP1","k":"H","t":750,"s":0.86,"lo":0.81,"hi":0.91},
{"g":"SFRP1","k":"H","t":1100,"s":0.827,"lo":0.77,"hi":0.88},
{"g":"SFRP1","k":"H","t":1450,"s":0.763,"lo":0.70,"hi":0.83},
{"g":"SFRP1","k":"H","t":1650,"s":0.708,"lo":0.64,"hi":0.78},
{"g":"SFRP1","k":"H","t":1900,"s":0.644,"lo":0.57,"hi":0.72},
{"g":"SFRP1","k":"H","t":2100,"s":0.617,"lo":0.54,"hi":0.69},
{"g":"SFRP1","k":"H","t":2450,"s":0.58,"lo":0.50,"hi":0.66},
{"g":"SFRP1","k":"H","t":2800,"s":0.553,"lo":0.47,"hi":0.64},
{"g":"SFRP1","k":"H","t":3100,"s":0.516,"lo":0.43,"hi":0.60},
{"g":"SFRP1","k":"H","t":3800,"s":0.49,"lo":0.40,"hi":0.58},
{"g":"SFRP1","k":"H","t":4450,"s":0.425,"lo":0.33,"hi":0.52},
{"g":"SFRP1","k":"H","t":4900,"s":0.38,"lo":0.29,"hi":0.48},
{"g":"SFRP1","k":"H","t":5100,"s":0.343,"lo":0.25,"hi":0.44},
{"g":"SFRP1","k":"H","t":5250,"s":0.325,"lo":0.23,"hi":0.43},
{"g":"SFRP1","k":"H","t":6350,"s":0.29,"lo":0.19,"hi":0.42},
{"g":"SFRP1","k":"H","t":6650,"s":0.243,"lo":0.14,"hi":0.42},
{"g":"SFRP1","k":"H","t":10550,"s":0.157,"lo":0.06,"hi":0.42},
{"g":"SFRP1","k":"H","t":11200,"s":0.157,"lo":0.06,"hi":0.42},

{"g":"CSNK1E","k":"L","t":0,"s":1,"lo":1,"hi":1},
{"g":"CSNK1E","k":"L","t":200,"s":0.97,"lo":0.94,"hi":1.0},
{"g":"CSNK1E","k":"L","t":350,"s":0.92,"lo":0.88,"hi":0.96},
{"g":"CSNK1E","k":"L","t":500,"s":0.88,"lo":0.84,"hi":0.92},
{"g":"CSNK1E","k":"L","t":800,"s":0.81,"lo":0.76,"hi":0.86},
{"g":"CSNK1E","k":"L","t":1050,"s":0.773,"lo":0.72,"hi":0.83},
{"g":"CSNK1E","k":"L","t":1300,"s":0.718,"lo":0.66,"hi":0.78},
{"g":"CSNK1E","k":"L","t":1600,"s":0.68,"lo":0.62,"hi":0.74},
{"g":"CSNK1E","k":"L","t":1850,"s":0.636,"lo":0.57,"hi":0.70},
{"g":"CSNK1E","k":"L","t":2300,"s":0.60,"lo":0.53,"hi":0.67},
{"g":"CSNK1E","k":"L","t":2850,"s":0.564,"lo":0.49,"hi":0.64},
{"g":"CSNK1E","k":"L","t":3100,"s":0.536,"lo":0.46,"hi":0.61},
{"g":"CSNK1E","k":"L","t":3800,"s":0.518,"lo":0.44,"hi":0.60},
{"g":"CSNK1E","k":"L","t":4250,"s":0.50,"lo":0.42,"hi":0.58},
{"g":"CSNK1E","k":"L","t":4700,"s":0.46,"lo":0.38,"hi":0.55},
{"g":"CSNK1E","k":"L","t":5000,"s":0.436,"lo":0.35,"hi":0.53},
{"g":"CSNK1E","k":"L","t":5250,"s":0.355,"lo":0.27,"hi":0.46},
{"g":"CSNK1E","k":"L","t":6450,"s":0.29,"lo":0.19,"hi":0.42},
{"g":"CSNK1E","k":"L","t":7250,"s":0.245,"lo":0.15,"hi":0.40},
{"g":"CSNK1E","k":"L","t":7500,"s":0.20,"lo":0.11,"hi":0.38},
{"g":"CSNK1E","k":"L","t":8050,"s":0.133,"lo":0.04,"hi":0.38},
{"g":"CSNK1E","k":"L","t":11200,"s":0.133,"lo":0.04,"hi":0.38},
{"g":"CSNK1E","k":"H","t":0,"s":1,"lo":1,"hi":1},
{"g":"CSNK1E","k":"H","t":150,"s":0.96,"lo":0.94,"hi":0.98},
{"g":"CSNK1E","k":"H","t":350,"s":0.90,"lo":0.87,"hi":0.93},
{"g":"CSNK1E","k":"H","t":550,"s":0.845,"lo":0.81,"hi":0.88},
{"g":"CSNK1E","k":"H","t":700,"s":0.79,"lo":0.75,"hi":0.83},
{"g":"CSNK1E","k":"H","t":850,"s":0.745,"lo":0.70,"hi":0.79},
{"g":"CSNK1E","k":"H","t":1050,"s":0.70,"lo":0.65,"hi":0.75},
{"g":"CSNK1E","k":"H","t":1300,"s":0.655,"lo":0.60,"hi":0.71},
{"g":"CSNK1E","k":"H","t":1500,"s":0.59,"lo":0.54,"hi":0.64},
{"g":"CSNK1E","k":"H","t":1700,"s":0.536,"lo":0.48,"hi":0.59},
{"g":"CSNK1E","k":"H","t":1950,"s":0.482,"lo":0.43,"hi":0.54},
{"g":"CSNK1E","k":"H","t":2200,"s":0.436,"lo":0.38,"hi":0.49},
{"g":"CSNK1E","k":"H","t":2500,"s":0.41,"lo":0.36,"hi":0.47},
{"g":"CSNK1E","k":"H","t":2850,"s":0.373,"lo":0.32,"hi":0.43},
{"g":"CSNK1E","k":"H","t":3300,"s":0.327,"lo":0.27,"hi":0.39},
{"g":"CSNK1E","k":"H","t":3750,"s":0.30,"lo":0.24,"hi":0.36},
{"g":"CSNK1E","k":"H","t":4200,"s":0.273,"lo":0.21,"hi":0.34},
{"g":"CSNK1E","k":"H","t":4900,"s":0.209,"lo":0.15,"hi":0.28},
{"g":"CSNK1E","k":"H","t":6000,"s":0.173,"lo":0.11,"hi":0.26},
{"g":"CSNK1E","k":"H","t":6700,"s":0.145,"lo":0.08,"hi":0.25},
{"g":"CSNK1E","k":"H","t":8950,"s":0.11,"lo":0.04,"hi":0.25},
{"g":"CSNK1E","k":"H","t":10300,"s":0.045,"lo":0.0,"hi":0.25},
{"g":"CSNK1E","k":"H","t":10750,"s":0.009,"lo":0.0,"hi":0.25},

{"g":"VANGL1","k":"L","t":0,"s":1,"lo":1,"hi":1},
{"g":"VANGL1","k":"L","t":200,"s":0.97,"lo":0.94,"hi":1.0},
{"g":"VANGL1","k":"L","t":400,"s":0.89,"lo":0.85,"hi":0.93},
{"g":"VANGL1","k":"L","t":700,"s":0.80,"lo":0.75,"hi":0.85},
{"g":"VANGL1","k":"L","t":1000,"s":0.747,"lo":0.69,"hi":0.80},
{"g":"VANGL1","k":"L","t":1200,"s":0.71,"lo":0.65,"hi":0.77},
{"g":"VANGL1","k":"L","t":1550,"s":0.656,"lo":0.59,"hi":0.72},
{"g":"VANGL1","k":"L","t":1800,"s":0.593,"lo":0.52,"hi":0.66},
{"g":"VANGL1","k":"L","t":2000,"s":0.557,"lo":0.49,"hi":0.63},
{"g":"VANGL1","k":"L","t":2650,"s":0.53,"lo":0.46,"hi":0.60},
{"g":"VANGL1","k":"L","t":3000,"s":0.512,"lo":0.44,"hi":0.59},
{"g":"VANGL1","k":"L","t":3450,"s":0.485,"lo":0.41,"hi":0.56},
{"g":"VANGL1","k":"L","t":3900,"s":0.457,"lo":0.38,"hi":0.54},
{"g":"VANGL1","k":"L","t":4700,"s":0.448,"lo":0.37,"hi":0.53},
{"g":"VANGL1","k":"L","t":4900,"s":0.42,"lo":0.34,"hi":0.51},
{"g":"VANGL1","k":"L","t":5100,"s":0.385,"lo":0.30,"hi":0.47},
{"g":"VANGL1","k":"L","t":6000,"s":0.34,"lo":0.25,"hi":0.44},
{"g":"VANGL1","k":"L","t":6400,"s":0.32,"lo":0.23,"hi":0.42},
{"g":"VANGL1","k":"L","t":6650,"s":0.277,"lo":0.18,"hi":0.39},
{"g":"VANGL1","k":"L","t":7100,"s":0.25,"lo":0.15,"hi":0.37},
{"g":"VANGL1","k":"L","t":7200,"s":0.213,"lo":0.12,"hi":0.33},
{"g":"VANGL1","k":"L","t":10100,"s":0.15,"lo":0.05,"hi":0.33},
{"g":"VANGL1","k":"L","t":10550,"s":0.105,"lo":0.03,"hi":0.33},
{"g":"VANGL1","k":"L","t":11200,"s":0.105,"lo":0.03,"hi":0.33},
{"g":"VANGL1","k":"H","t":0,"s":1,"lo":1,"hi":1},
{"g":"VANGL1","k":"H","t":150,"s":0.97,"lo":0.94,"hi":1.0},
{"g":"VANGL1","k":"H","t":300,"s":0.90,"lo":0.86,"hi":0.94},
{"g":"VANGL1","k":"H","t":500,"s":0.837,"lo":0.79,"hi":0.88},
{"g":"VANGL1","k":"H","t":650,"s":0.783,"lo":0.73,"hi":0.83},
{"g":"VANGL1","k":"H","t":850,"s":0.72,"lo":0.67,"hi":0.77},
{"g":"VANGL1","k":"H","t":1100,"s":0.683,"lo":0.63,"hi":0.74},
{"g":"VANGL1","k":"H","t":1300,"s":0.647,"lo":0.59,"hi":0.70},
{"g":"VANGL1","k":"H","t":1550,"s":0.557,"lo":0.50,"hi":0.62},
{"g":"VANGL1","k":"H","t":1850,"s":0.512,"lo":0.45,"hi":0.58},
{"g":"VANGL1","k":"H","t":2200,"s":0.467,"lo":0.40,"hi":0.53},
{"g":"VANGL1","k":"H","t":2500,"s":0.44,"lo":0.38,"hi":0.51},
{"g":"VANGL1","k":"H","t":2900,"s":0.403,"lo":0.34,"hi":0.47},
{"g":"VANGL1","k":"H","t":3300,"s":0.35,"lo":0.28,"hi":0.42},
{"g":"VANGL1","k":"H","t":3450,"s":0.33,"lo":0.26,"hi":0.40},
{"g":"VANGL1","k":"H","t":3900,"s":0.304,"lo":0.23,"hi":0.38},
{"g":"VANGL1","k":"H","t":4400,"s":0.267,"lo":0.19,"hi":0.34},
{"g":"VANGL1","k":"H","t":4750,"s":0.222,"lo":0.15,"hi":0.30},
{"g":"VANGL1","k":"H","t":5050,"s":0.186,"lo":0.12,"hi":0.27},
{"g":"VANGL1","k":"H","t":5850,"s":0.174,"lo":0.10,"hi":0.26},
{"g":"VANGL1","k":"H","t":6300,"s":0.14,"lo":0.07,"hi":0.24},
{"g":"VANGL1","k":"H","t":7850,"s":0.07,"lo":0.02,"hi":0.29},
{"g":"VANGL1","k":"H","t":8900,"s":0,"lo":0.02,"hi":0.29},

{"g":"WNT1","k":"L","t":0,"s":1,"lo":1,"hi":1},
{"g":"WNT1","k":"L","t":200,"s":0.91,"lo":0.88,"hi":0.94},
{"g":"WNT1","k":"L","t":350,"s":0.854,"lo":0.82,"hi":0.89},
{"g":"WNT1","k":"L","t":450,"s":0.80,"lo":0.76,"hi":0.84},
{"g":"WNT1","k":"L","t":650,"s":0.753,"lo":0.71,"hi":0.80},
{"g":"WNT1","k":"L","t":800,"s":0.68,"lo":0.63,"hi":0.73},
{"g":"WNT1","k":"L","t":1100,"s":0.644,"lo":0.59,"hi":0.70},
{"g":"WNT1","k":"L","t":1350,"s":0.57,"lo":0.51,"hi":0.63},
{"g":"WNT1","k":"L","t":1650,"s":0.507,"lo":0.45,"hi":0.57},
{"g":"WNT1","k":"L","t":1900,"s":0.453,"lo":0.39,"hi":0.52},
{"g":"WNT1","k":"L","t":2250,"s":0.416,"lo":0.35,"hi":0.48},
{"g":"WNT1","k":"L","t":2700,"s":0.38,"lo":0.32,"hi":0.44},
{"g":"WNT1","k":"L","t":3350,"s":0.325,"lo":0.26,"hi":0.39},
{"g":"WNT1","k":"L","t":3700,"s":0.297,"lo":0.24,"hi":0.36},
{"g":"WNT1","k":"L","t":4100,"s":0.27,"lo":0.21,"hi":0.33},
{"g":"WNT1","k":"L","t":4600,"s":0.26,"lo":0.20,"hi":0.32},
{"g":"WNT1","k":"L","t":4950,"s":0.224,"lo":0.16,"hi":0.29},
{"g":"WNT1","k":"L","t":5150,"s":0.188,"lo":0.13,"hi":0.26},
{"g":"WNT1","k":"L","t":5900,"s":0.179,"lo":0.12,"hi":0.25},
{"g":"WNT1","k":"L","t":6500,"s":0.16,"lo":0.10,"hi":0.23},
{"g":"WNT1","k":"L","t":7250,"s":0.133,"lo":0.07,"hi":0.21},
{"g":"WNT1","k":"L","t":8850,"s":0.07,"lo":0.02,"hi":0.20},
{"g":"WNT1","k":"L","t":10200,"s":0.033,"lo":0.0,"hi":0.20},
{"g":"WNT1","k":"L","t":11200,"s":0.033,"lo":0.0,"hi":0.20},
{"g":"WNT1","k":"H","t":0,"s":1,"lo":1,"hi":1},
{"g":"WNT1","k":"H","t":200,"s":0.98,"lo":0.96,"hi":1.0},
{"g":"WNT1","k":"H","t":450,"s":0.936,"lo":0.90,"hi":0.97},
{"g":"WNT1","k":"H","t":650,"s":0.89,"lo":0.85,"hi":0.93},
{"g":"WNT1","k":"H","t":800,"s":0.827,"lo":0.78,"hi":0.88},
{"g":"WNT1","k":"H","t":900,"s":0.78,"lo":0.73,"hi":0.83},
{"g":"WNT1","k":"H","t":1200,"s":0.753,"lo":0.70,"hi":0.81},
{"g":"WNT1","k":"H","t":1450,"s":0.717,"lo":0.66,"hi":0.78},
{"g":"WNT1","k":"H","t":1700,"s":0.68,"lo":0.62,"hi":0.74},
{"g":"WNT1","k":"H","t":1900,"s":0.635,"lo":0.57,"hi":0.70},
{"g":"WNT1","k":"H","t":2250,"s":0.608,"lo":0.54,"hi":0.68},
{"g":"WNT1","k":"H","t":2800,"s":0.58,"lo":0.51,"hi":0.65},
{"g":"WNT1","k":"H","t":2900,"s":0.526,"lo":0.45,"hi":0.60},
{"g":"WNT1","k":"H","t":3100,"s":0.507,"lo":0.43,"hi":0.58},
{"g":"WNT1","k":"H","t":4000,"s":0.50,"lo":0.42,"hi":0.58},
{"g":"WNT1","k":"H","t":4500,"s":0.47,"lo":0.39,"hi":0.55},
{"g":"WNT1","k":"H","t":4850,"s":0.434,"lo":0.35,"hi":0.52},
{"g":"WNT1","k":"H","t":5250,"s":0.38,"lo":0.29,"hi":0.47},
{"g":"WNT1","k":"H","t":5950,"s":0.297,"lo":0.20,"hi":0.40},
{"g":"WNT1","k":"H","t":6600,"s":0.25,"lo":0.15,"hi":0.37},
{"g":"WNT1","k":"H","t":6850,"s":0.197,"lo":0.10,"hi":0.37},
{"g":"WNT1","k":"H","t":10650,"s":0.097,"lo":0.01,"hi":0.46},
{"g":"WNT1","k":"H","t":11100,"s":0.097,"lo":0.01,"hi":0.46},

{"g":"WNT11","k":"L","t":0,"s":1,"lo":1,"hi":1},
{"g":"WNT11","k":"L","t":200,"s":0.97,"lo":0.95,"hi":0.99},
{"g":"WNT11","k":"L","t":350,"s":0.93,"lo":0.90,"hi":0.96},
{"g":"WNT11","k":"L","t":500,"s":0.893,"lo":0.86,"hi":0.93},
{"g":"WNT11","k":"L","t":750,"s":0.83,"lo":0.79,"hi":0.87},
{"g":"WNT11","k":"L","t":950,"s":0.777,"lo":0.73,"hi":0.82},
{"g":"WNT11","k":"L","t":1200,"s":0.732,"lo":0.68,"hi":0.78},
{"g":"WNT11","k":"L","t":1550,"s":0.688,"lo":0.63,"hi":0.74},
{"g":"WNT11","k":"L","t":1750,"s":0.643,"lo":0.59,"hi":0.70},
{"g":"WNT11","k":"L","t":2100,"s":0.60,"lo":0.54,"hi":0.66},
{"g":"WNT11","k":"L","t":2350,"s":0.571,"lo":0.51,"hi":0.63},
{"g":"WNT11","k":"L","t":2800,"s":0.545,"lo":0.48,"hi":0.61},
{"g":"WNT11","k":"L","t":3200,"s":0.518,"lo":0.45,"hi":0.58},
{"g":"WNT11","k":"L","t":3600,"s":0.482,"lo":0.42,"hi":0.55},
{"g":"WNT11","k":"L","t":4200,"s":0.45,"lo":0.38,"hi":0.52},
{"g":"WNT11","k":"L","t":4450,"s":0.429,"lo":0.36,"hi":0.50},
{"g":"WNT11","k":"L","t":4900,"s":0.40,"lo":0.33,"hi":0.47},
{"g":"WNT11","k":"L","t":5200,"s":0.357,"lo":0.28,"hi":0.43},
{"g":"WNT11","k":"L","t":5400,"s":0.34,"lo":0.27,"hi":0.42},
{"g":"WNT11","k":"L","t":6500,"s":0.286,"lo":0.20,"hi":0.37},
{"g":"WNT11","k":"L","t":6750,"s":0.24,"lo":0.16,"hi":0.34},
{"g":"WNT11","k":"L","t":8100,"s":0.20,"lo":0.12,"hi":0.30},
{"g":"WNT11","k":"L","t":8950,"s":0.16,"lo":0.08,"hi":0.28},
{"g":"WNT11","k":"L","t":10500,"s":0.12,"lo":0.04,"hi":0.28},
{"g":"WNT11","k":"L","t":11000,"s":0.08,"lo":0.02,"hi":0.28},
{"g":"WNT11","k":"L","t":11200,"s":0.08,"lo":0.02,"hi":0.28},
{"g":"WNT11","k":"H","t":0,"s":1,"lo":1,"hi":1},
{"g":"WNT11","k":"H","t":150,"s":0.96,"lo":0.93,"hi":0.99},
{"g":"WNT11","k":"H","t":300,"s":0.893,"lo":0.85,"hi":0.93},
{"g":"WNT11","k":"H","t":400,"s":0.83,"lo":0.78,"hi":0.88},
{"g":"WNT11","k":"H","t":500,"s":0.786,"lo":0.73,"hi":0.84},
{"g":"WNT11","k":"H","t":650,"s":0.732,"lo":0.67,"hi":0.79},
{"g":"WNT11","k":"H","t":850,"s":0.688,"lo":0.62,"hi":0.75},
{"g":"WNT11","k":"H","t":950,"s":0.634,"lo":0.57,"hi":0.70},
{"g":"WNT11","k":"H","t":1050,"s":0.60,"lo":0.53,"hi":0.67},
{"g":"WNT11","k":"H","t":1300,"s":0.554,"lo":0.48,"hi":0.62},
{"g":"WNT11","k":"H","t":1500,"s":0.518,"lo":0.45,"hi":0.59},
{"g":"WNT11","k":"H","t":1700,"s":0.473,"lo":0.40,"hi":0.55},
{"g":"WNT11","k":"H","t":2000,"s":0.429,"lo":0.35,"hi":0.50},
{"g":"WNT11","k":"H","t":2200,"s":0.40,"lo":0.33,"hi":0.48},
{"g":"WNT11","k":"H","t":2500,"s":0.375,"lo":0.30,"hi":0.45},
{"g":"WNT11","k":"H","t":2800,"s":0.34,"lo":0.27,"hi":0.42},
{"g":"WNT11","k":"H","t":3000,"s":0.313,"lo":0.24,"hi":0.39},
{"g":"WNT11","k":"H","t":3200,"s":0.277,"lo":0.20,"hi":0.35},
{"g":"WNT11","k":"H","t":3500,"s":0.25,"lo":0.18,"hi":0.33},
{"g":"WNT11","k":"H","t":4800,"s":0.214,"lo":0.14,"hi":0.30},
{"g":"WNT11","k":"H","t":5100,"s":0.184,"lo":0.10,"hi":0.29},
{"g":"WNT11","k":"H","t":5450,"s":0.134,"lo":0.05,"hi":0.29},
{"g":"WNT11","k":"H","t":6850,"s":0.09,"lo":0.01,"hi":0.29},
{"g":"WNT11","k":"H","t":7500,"s":0,"lo":0.01,"hi":0.29}
]},
"facet": {"field": "g", "type": "nominal",
  "sort": ["CAMK2B","FZD6","PLAAT1","PLCB2","RAC3","PPP2R1A","PRKACB","RAC2","SFRP1","CSNK1E","VANGL1","WNT1","WNT11"],
  "header": {"title": null, "labelFont": "Liberation Sans", "labelFontSize": 17.5, "labelColor": "#222", "labelPadding": 28}},
"columns": 5,
"spacing": {"row": 33, "column": 40},
"resolve": {"axis": {"x": "independent", "y": "independent"}},
"spec": {
  "width": 175, "height": 195,
  "layer": [
    {"transform": [{"filter": "datum.k != 'A'"}],
     "mark": {"type": "area", "interpolate": "step-after"},
     "encoding": {
       "x": {"field": "t", "type": "quantitative", "scale": {"domain": [-430, 11210], "nice": false, "zero": false},
             "axis": {"values": [0, 3000, 6000, 9000], "format": "d", "title": "Time (days)"}},
       "y": {"field": "lo", "type": "quantitative", "scale": {"domain": [-0.03, 1.035], "nice": false, "zero": false},
             "axis": {"values": [0, 0.25, 0.5, 0.75, 1], "format": ".2f", "title": "Survival probability"}},
       "y2": {"field": "hi"},
       "detail": {"field": "k"},
       "fill": {"condition": {"test": "datum.k == 'L'", "value": "#4fa8d5"}, "value": "#e8603c"},
       "fillOpacity": {"condition": {"test": "datum.k == 'L'", "value": 0.2}, "value": 0.3}
     }},
    {"transform": [{"filter": "datum.k != 'A'"}],
     "mark": {"type": "line", "interpolate": "step-after", "strokeWidth": 1},
     "encoding": {
       "x": {"field": "t", "type": "quantitative"},
       "y": {"field": "s", "type": "quantitative"},
       "color": {"field": "k", "type": "nominal", "scale": {"domain": ["L", "H"], "range": ["#35a3c8", "#e8452c"]}, "legend": null}
     }},
    {"transform": [{"filter": "datum.k != 'A' && datum.t > 0 && datum.s > 0"}],
     "mark": {"type": "point", "shape": "M-1,0L1,0M0,-1L0,1", "filled": false, "size": 30, "strokeWidth": 1, "opacity": 1},
     "encoding": {
       "x": {"field": "t", "type": "quantitative"},
       "y": {"field": "s", "type": "quantitative"},
       "color": {"field": "k", "type": "nominal", "scale": {"domain": ["L", "H"], "range": ["#35a3c8", "#e8452c"]}, "legend": null}
     }},
    {"transform": [{"filter": "datum.k == 'A'"}],
     "mark": {"type": "text", "align": "left", "baseline": "middle", "font": "Liberation Sans", "fontSize": 9.5, "color": "#111"},
     "encoding": {"x": {"datum": -160}, "y": {"datum": 0.167}, "text": {"value": "Overall Survival"}}},
    {"transform": [{"filter": "datum.k == 'A'"}],
     "mark": {"type": "text", "align": "left", "baseline": "middle", "font": "Liberation Sans", "fontSize": 9.5, "color": "#111"},
     "encoding": {"x": {"datum": -160}, "y": {"datum": 0.103}, "text": {"field": "hr"}}},
    {"transform": [{"filter": "datum.k == 'A'"}],
     "mark": {"type": "text", "align": "left", "baseline": "middle", "font": "Liberation Sans", "fontSize": 9.5, "fontStyle": "italic", "color": "#111"},
     "encoding": {"x": {"datum": -160}, "y": {"datum": 0.039}, "text": {"value": "P"}}},
    {"transform": [{"filter": "datum.k == 'A'"}],
     "mark": {"type": "text", "align": "left", "baseline": "middle", "font": "Liberation Sans", "fontSize": 9.5, "color": "#111"},
     "encoding": {"x": {"datum": 390}, "y": {"datum": 0.039}, "text": {"field": "p"}}},
    {"transform": [{"filter": "datum.k == 'A'"}],
     "mark": {"type": "text", "align": "left", "baseline": "middle", "font": "Liberation Sans", "fontSize": 9.5, "color": "#111"},
     "encoding": {"x": {"datum": 8594}, "y": {"datum": 0.99}, "text": {"field": "g"}}},
    {"transform": [{"filter": "datum.k == 'A'"}],
     "mark": {"type": "text", "align": "left", "baseline": "middle", "font": "Liberation Sans", "fontSize": 9.5, "color": "#111"},
     "encoding": {"x": {"datum": 9700}, "y": {"datum": 0.922}, "text": {"value": "Low"}}},
    {"transform": [{"filter": "datum.k == 'A'"}],
     "mark": {"type": "text", "align": "left", "baseline": "middle", "font": "Liberation Sans", "fontSize": 9.5, "color": "#111"},
     "encoding": {"x": {"datum": 9700}, "y": {"datum": 0.862}, "text": {"value": "High"}}},
    {"transform": [{"filter": "datum.k == 'A'"}],
     "mark": {"type": "rule", "strokeWidth": 1.5, "color": "#a6d4e6"},
     "encoding": {"x": {"datum": 8700}, "x2": {"datum": 9480}, "y": {"datum": 0.922}}},
    {"transform": [{"filter": "datum.k == 'A'"}],
     "mark": {"type": "rule", "strokeWidth": 1.5, "color": "#f2a590"},
     "encoding": {"x": {"datum": 8700}, "x2": {"datum": 9480}, "y": {"datum": 0.862}}}
  ]
},
"title": {"text": "FIGURE 3", "subtitle": "Survival curves for the 13 genes.", "orient": "bottom", "anchor": "start", "dx": 5,
  "font": "Open Sans", "fontSize": 13.5, "fontWeight": 600, "color": "#555",
  "subtitleFont": "Open Sans", "subtitleFontSize": 17, "subtitleColor": "#555", "subtitlePadding": 4, "offset": 32},
"config": {
  "view": {"stroke": "#555", "strokeWidth": 1},
  "axis": {"labelFont": "Liberation Sans", "labelFontSize": 10, "labelColor": "#222", "titleFont": "Liberation Sans",
           "titleFontSize": 11.3, "titleFontWeight": "normal", "titleColor": "#222", "tickColor": "#555", "tickSize": 4,
           "domain": false, "grid": false, "labelPadding": 2},
  "axisY": {"titlePadding": 5},
  "axisX": {"titlePadding": 3}
}
}
